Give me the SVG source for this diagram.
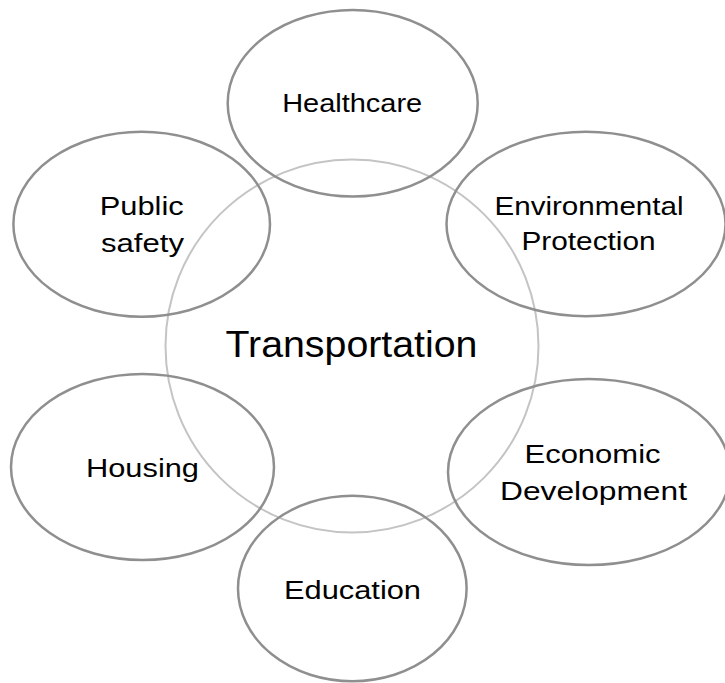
<svg xmlns="http://www.w3.org/2000/svg" width="725" height="683" viewBox="0 0 725 683">
  <style>
    .hub { fill: none; stroke: #c4c4c4; stroke-width: 2; }
    .spoke { fill: none; stroke: #8f8f8f; stroke-width: 2.5; }
    .lbl { font-family: "Liberation Sans", Arial, sans-serif; font-size: 25px; fill: #000; text-anchor: middle; }
    .hub-lbl { font-family: "Liberation Sans", Arial, sans-serif; font-size: 36px; fill: #000; text-anchor: middle; }
  </style>
  <rect width="725" height="683" fill="#ffffff"/>

  <!-- central topic -->
  <g id="transportation">
    <circle class="hub" cx="352" cy="346" r="186.5"/>
    <text class="hub-lbl" x="351.5" y="357.3" textLength="252" lengthAdjust="spacingAndGlyphs">Transportation</text>
  </g>

  <!-- surrounding topics -->
  <g id="healthcare">
    <ellipse class="spoke" cx="352.7" cy="103.3" rx="125" ry="93.3"/>
    <text class="lbl" x="352.2" y="112.3" textLength="140" lengthAdjust="spacingAndGlyphs">Healthcare</text>
  </g>

  <g id="public-safety">
    <ellipse class="spoke" cx="141.7" cy="224.2" rx="128.3" ry="92.5"/>
    <text class="lbl" x="141.7" y="215" textLength="84" lengthAdjust="spacingAndGlyphs">Public</text>
    <text class="lbl" x="142.5" y="251.7" textLength="83" lengthAdjust="spacingAndGlyphs">safety</text>
  </g>

  <g id="environmental-protection">
    <ellipse class="spoke" cx="586" cy="224" rx="139.5" ry="92.3"/>
    <text class="lbl" x="589" y="215" textLength="189" lengthAdjust="spacingAndGlyphs">Environmental</text>
    <text class="lbl" x="588.5" y="249.5" textLength="134" lengthAdjust="spacingAndGlyphs">Protection</text>
  </g>

  <g id="housing">
    <ellipse class="spoke" cx="142.5" cy="467" rx="131.5" ry="93"/>
    <text class="lbl" x="142.5" y="476.7" textLength="113" lengthAdjust="spacingAndGlyphs">Housing</text>
  </g>

  <g id="economic-development">
    <ellipse class="spoke" cx="589" cy="472" rx="141" ry="93"/>
    <text class="lbl" x="592.5" y="462.7" textLength="136" lengthAdjust="spacingAndGlyphs">Economic</text>
    <text class="lbl" x="593.5" y="500" textLength="187" lengthAdjust="spacingAndGlyphs">Development</text>
  </g>

  <g id="education">
    <ellipse class="spoke" cx="352.3" cy="588.5" rx="114.3" ry="92.7"/>
    <text class="lbl" x="352.5" y="599" textLength="137" lengthAdjust="spacingAndGlyphs">Education</text>
  </g>

  <!-- no connectors: the topics overlap the hub directly -->
  <g id="connectors"/>
</svg>
